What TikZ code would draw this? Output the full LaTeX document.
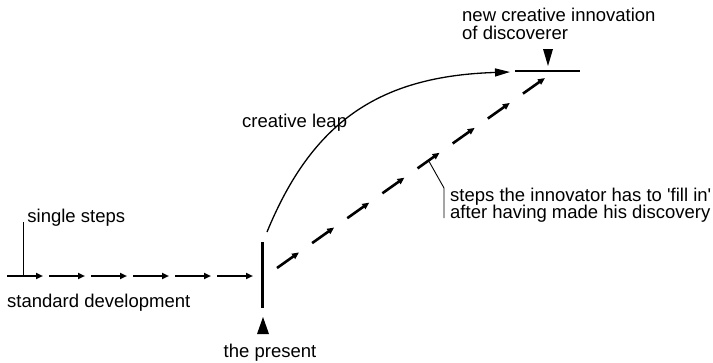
\documentclass[tikz,border=0pt]{standalone}
\usepackage{fontspec}
\setmainfont{Liberation Sans}
\usetikzlibrary{arrows.meta,calc}

\begin{document}
\begin{tikzpicture}[x=1pt,y=-1pt,
        every node/.style={inner sep=0pt, font=\fontsize{18.5}{17.5}\selectfont},
        stepdash/.style={line width=2.6pt, -{Triangle[length=7pt,width=6pt]}},
        leader/.style={line width=0.9pt}]
    \useasboundingbox (0,0) rectangle (713,362);

    % standard development
    \foreach \i in {0,...,5}
        \draw[stepdash] ({7+42*\i},276) -- ({43+42*\i},276);
    \draw[leader] (23,276) coordinate (S)
        -- (23,222) coordinate (S') node[anchor=base west, xshift=4pt] (single) {single steps};
    \node[anchor=base west] (standard) at (7,307) {standard development};

    % the present
    \draw[line width=3pt] (262,242) coordinate (P) -- (262,308) coordinate (P');
    \fill (263,317) -- (269,334) -- (257,334) -- cycle;
    \node[anchor=base] (present) at (270,357) {the present};

    % creative leap
    \draw[line width=1.3pt, -{Triangle[length=15pt,width=8pt]}]
        (267,232) coordinate (L) .. controls (312.6,121) and (380,76) .. (510,72) coordinate (L');
    \node[anchor=base west] (leap) at (242,127) {creative leap};

    % innovation
    \draw[line width=2pt] (515,71) coordinate (I) -- (580,71) coordinate (I');
    \fill (543,49) -- (553,49) -- (548,66) -- cycle;
    \node[anchor=west, align=left] (innovation) at (462,24) {new creative innovation\\of discoverer};

    % steps to fill in
    \coordinate (A) at (277,268);
    \coordinate (B) at (545,78);
    \foreach \i in {0,...,7}
        \draw[stepdash] ($(A)!{\i*0.1311}!(B)$) -- ($(A)!{\i*0.1311+0.0822}!(B)$);
    \draw[leader] ($(A)!0.5655!(B)$) coordinate (F) -- (444,188) -- (444,218);
    \node[anchor=west, align=left] (fill) at (450,205)
        {steps the innovator has to \textquotesingle fill in\textquotesingle\\after having made his discovery};
\end{tikzpicture}
\end{document}
